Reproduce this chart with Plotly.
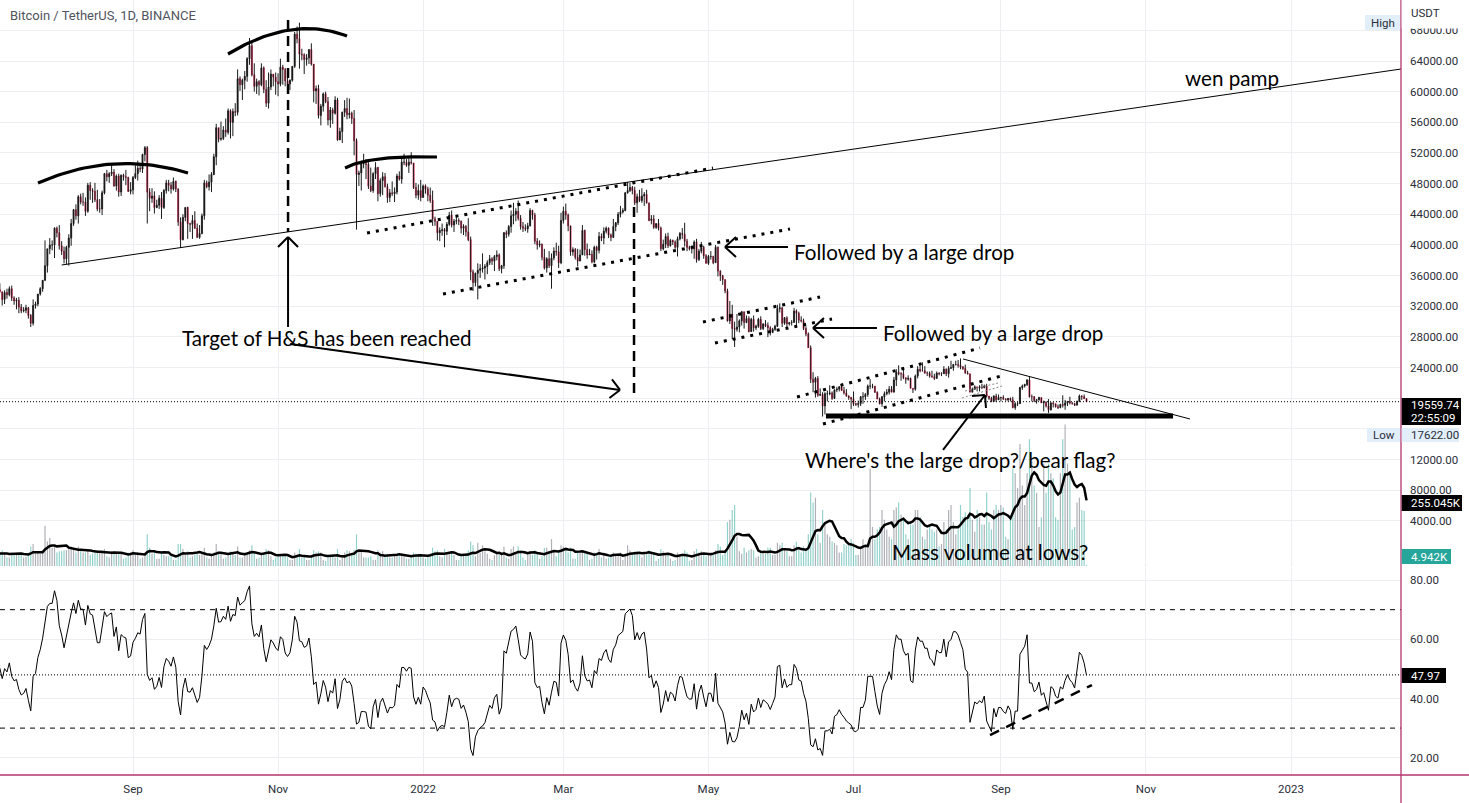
import numpy as np
import pandas as pd
import plotly.graph_objects as go

# ---------------- data (thousand USDT / thousand BTC), daily from START_DATE ----------------
START_DATE = "2021-06-10"
FIRST_OPEN_K = 37.3

CLOSE_K = [
    # 2021-06 (10..30)
    36.7, 37.3, 35.5, 39.0, 40.5, 40.2, 38.3, 38.1, 35.8, 35.5, 35.6, 31.7, 32.5, 33.7, 34.7, 31.6, 32.3, 34.7, 34.5, 35.9, 35.0,
    # 2021-07
    33.5, 33.8, 34.7, 35.3, 33.7, 34.2, 33.9, 32.9, 33.8, 33.5, 34.3, 33.1, 32.7, 32.8, 31.9, 31.4, 31.5, 31.8, 30.8, 29.8, 32.1, 32.3, 33.6, 34.3, 35.4, 37.3, 39.5, 40.0, 40.0, 42.2, 41.6,
    # 2021-08
    39.9, 39.2, 38.2, 39.7, 40.9, 42.8, 44.6, 43.8, 46.3, 45.6, 45.6, 44.4, 47.8, 47.1, 47.0, 45.9, 44.7, 44.7, 46.8, 49.3, 48.9, 49.3, 49.5, 47.7, 49.0, 46.9, 49.1, 48.9, 48.8, 47.0, 47.2,
    # 2021-09
    48.8, 49.3, 50.0, 49.9, 51.8, 52.7, 46.9, 46.1, 46.4, 44.9, 45.2, 46.1, 44.9, 47.1, 48.1, 47.8, 47.3, 48.3, 47.3, 43.0, 40.7, 43.6, 44.9, 42.8, 42.7, 43.2, 42.2, 41.0, 41.5, 43.8,
    # 2021-10
    48.1, 47.6, 48.2, 49.2, 51.5, 55.3, 53.8, 53.9, 55.0, 54.7, 57.5, 56.0, 57.4, 57.3, 61.7, 60.9, 61.5, 62.0, 64.3, 66.0, 62.2, 60.7, 61.3, 60.9, 63.1, 60.3, 58.5, 60.6, 62.3, 61.9, 61.3,
    # 2021-11
    61.0, 63.2, 62.9, 61.4, 61.0, 61.5, 63.3, 67.5, 66.9, 64.9, 64.8, 64.2, 64.4, 65.5, 63.6, 60.1, 60.4, 56.9, 58.1, 59.7, 58.7, 56.3, 57.6, 57.2, 58.9, 53.7, 54.8, 57.3, 57.8, 57.0,
    # 2021-12
    57.2, 56.5, 53.6, 49.2, 49.4, 50.6, 50.6, 50.5, 47.7, 47.1, 49.3, 50.1, 46.7, 48.4, 48.9, 47.6, 46.2, 46.8, 46.7, 46.9, 49.0, 48.6, 50.8, 50.8, 50.4, 50.8, 50.7, 47.5, 46.5, 47.1, 46.2,
    # 2022-01
    47.7, 47.3, 46.5, 45.8, 43.4, 43.1, 41.6, 41.9, 42.0, 41.8, 42.7, 43.9, 42.6, 43.1, 43.2, 43.1, 42.2, 42.4, 41.7, 40.7, 36.5, 35.1, 36.3, 36.7, 36.9, 37.0, 37.2, 37.7, 38.2, 37.9, 38.5,
    # 2022-02
    38.7, 36.9, 37.3, 41.6, 41.4, 42.4, 43.8, 44.0, 44.4, 43.5, 42.4, 42.2, 42.1, 42.5, 44.5, 43.9, 40.5, 40.0, 40.1, 38.4, 37.0, 38.2, 37.3, 38.3, 39.2, 39.1, 37.7, 43.2,
    # 2022-03
    44.4, 43.9, 42.5, 39.1, 39.4, 38.4, 37.9, 38.7, 41.9, 39.4, 38.7, 38.8, 37.8, 39.7, 39.3, 41.1, 40.9, 41.8, 42.2, 41.3, 41.0, 42.4, 42.9, 44.0, 44.3, 44.5, 46.8, 47.1, 47.5, 47.1, 45.5,
    # 2022-04
    46.3, 45.8, 46.4, 46.6, 45.5, 43.2, 43.4, 42.3, 42.8, 42.2, 39.5, 40.1, 41.1, 39.9, 40.6, 40.4, 39.7, 40.8, 41.5, 41.4, 40.5, 39.7, 39.5, 39.5, 40.4, 38.1, 39.2, 39.7, 38.6, 37.6,
    # 2022-05
    38.5, 38.5, 37.7, 39.7, 36.6, 36.0, 35.5, 34.0, 30.1, 31.0, 29.1, 29.0, 29.3, 30.1, 31.3, 29.9, 30.4, 28.7, 30.3, 29.2, 29.4, 30.3, 29.1, 29.7, 29.5, 29.2, 28.6, 29.0, 29.4, 31.7, 31.8,
    # 2022-06
    29.8, 30.5, 29.7, 29.9, 29.9, 31.4, 31.1, 30.2, 30.1, 29.1, 28.4, 26.6, 22.5, 22.1, 22.6, 20.4, 20.5, 19.0, 20.6, 20.6, 20.7, 20.0, 21.1, 21.2, 21.5, 21.0, 20.7, 20.3, 20.1, 19.9,
    # 2022-07
    19.3, 19.2, 19.3, 20.2, 20.2, 20.5, 21.6, 21.6, 21.6, 20.8, 19.9, 19.3, 20.2, 20.6, 20.8, 21.2, 20.8, 22.4, 23.4, 23.2, 23.2, 22.7, 22.5, 22.6, 21.3, 21.2, 22.9, 23.8, 23.6, 23.6, 23.3,
    # 2022-08
    23.3, 22.9, 22.8, 22.6, 23.3, 23.2, 23.2, 23.8, 23.2, 23.9, 24.0, 24.4, 24.4, 24.3, 24.1, 23.9, 23.3, 23.2, 20.8, 21.2, 21.5, 21.4, 21.5, 21.4, 21.6, 20.3, 20.0, 19.6, 20.3, 19.8, 20.1,
    # 2022-09
    20.1, 19.9, 19.8, 20.0, 19.8, 18.8, 19.3, 19.3, 21.4, 21.6, 21.8, 22.4, 20.2, 20.2, 19.7, 19.8, 20.1, 19.4, 19.5, 19.0, 18.5, 19.4, 19.3, 18.9, 18.8, 19.2, 19.1, 19.4, 19.6, 19.4,
    # 2022-10 (1..7)
    19.3, 19.1, 19.6, 20.3, 20.2, 19.96, 19.55974,
]

HIGH_K = [
    38.4, 37.7, 37.4, 39.3, 41.0, 41.3, 40.5, 39.6, 38.2, 36.4, 36.1, 35.7, 33.3, 34.9, 35.3, 35.0, 32.7, 34.7, 35.3, 36.7, 36.0,
    35.0, 33.9, 34.9, 35.9, 35.3, 35.1, 35.0, 33.9, 34.1, 34.3, 34.6, 34.7, 33.3, 33.1, 33.2, 32.3, 31.9, 32.2, 31.9, 31.0, 32.9, 32.6, 33.6, 34.5, 35.4, 40.6, 39.5, 40.9, 40.6, 42.3, 42.4,
    42.6, 40.5, 39.8, 39.9, 41.4, 43.4, 44.7, 45.3, 46.5, 46.7, 46.8, 46.2, 48.1, 48.2, 47.4, 48.1, 47.2, 46.0, 47.1, 49.4, 49.8, 49.5, 50.5, 49.9, 49.2, 49.3, 49.2, 49.3, 49.8, 48.9, 48.2,
    49.0, 50.4, 51.0, 50.6, 51.9, 52.9, 52.9, 47.4, 47.4, 47.0, 45.9, 46.5, 46.9, 47.3, 48.5, 48.5, 48.2, 48.8, 48.4, 47.4, 43.6, 44.0, 44.9, 45.0, 42.9, 43.9, 44.4, 42.8, 42.6, 44.1,
    48.5, 48.4, 49.2, 49.5, 51.9, 55.8, 55.3, 56.1, 55.5, 56.5, 57.8, 57.7, 57.8, 58.5, 62.9, 62.0, 61.7, 62.7, 64.5, 67.0, 66.6, 63.7, 61.7, 61.5, 63.7, 63.3, 61.5, 62.5, 62.9, 62.3, 62.5,
    62.4, 64.3, 63.5, 63.1, 62.6, 61.6, 63.3, 67.8, 68.5, 69.0, 65.6, 65.0, 64.9, 65.5, 66.3, 63.6, 60.8, 60.9, 58.4, 59.9, 60.0, 59.3, 58.0, 57.9, 59.4, 59.2, 55.3, 57.4, 58.9, 59.2,
    59.1, 57.4, 57.6, 53.9, 49.7, 51.0, 51.9, 51.2, 50.8, 50.1, 49.5, 50.8, 50.2, 48.7, 49.5, 49.4, 48.0, 47.3, 48.3, 47.5, 49.3, 49.6, 51.4, 51.9, 51.2, 51.3, 52.1, 50.7, 48.1, 47.9, 48.5,
    47.9, 47.9, 47.6, 47.5, 47.1, 43.7, 43.1, 42.3, 42.8, 42.2, 43.0, 44.3, 44.5, 43.4, 43.8, 43.5, 43.2, 42.7, 42.6, 43.5, 41.1, 36.8, 36.4, 37.6, 37.5, 38.9, 37.5, 38.0, 38.7, 38.4, 38.7,
    39.3, 38.9, 37.4, 41.7, 41.9, 42.6, 44.5, 45.5, 44.8, 45.8, 43.9, 43.0, 42.7, 42.9, 44.8, 44.6, 44.2, 40.9, 40.6, 40.2, 39.5, 38.4, 39.2, 38.9, 39.7, 40.3, 39.9, 44.2,
    45.0, 45.4, 44.1, 42.5, 39.7, 39.6, 39.5, 39.4, 42.6, 42.0, 40.2, 39.5, 39.3, 39.9, 39.9, 41.7, 41.5, 42.3, 42.4, 42.3, 41.5, 43.4, 43.0, 44.3, 45.1, 44.8, 46.9, 48.2, 48.1, 47.7, 47.6,
    46.7, 47.2, 47.4, 46.9, 47.2, 45.5, 43.9, 43.9, 42.8, 43.4, 42.4, 40.7, 41.5, 41.6, 40.8, 40.7, 40.6, 41.1, 41.7, 42.2, 42.9, 40.8, 39.9, 39.9, 40.6, 40.8, 39.5, 40.4, 39.9, 38.8,
    38.7, 39.2, 38.6, 40.0, 39.8, 36.7, 36.1, 35.5, 34.3, 32.7, 32.2, 30.0, 31.0, 30.3, 31.4, 31.3, 30.8, 30.7, 30.5, 30.8, 29.6, 30.5, 30.7, 29.8, 30.2, 29.9, 29.4, 29.2, 29.6, 32.2, 32.4,
    31.9, 30.6, 30.7, 29.9, 30.2, 31.8, 31.6, 31.3, 30.7, 30.4, 29.4, 28.6, 26.9, 23.4, 22.8, 22.9, 21.3, 20.8, 20.8, 21.0, 21.7, 20.9, 21.2, 21.5, 21.6, 21.9, 21.5, 21.2, 20.4, 20.2,
    20.9, 19.4, 19.7, 20.3, 20.8, 20.7, 21.8, 22.5, 21.9, 21.6, 20.9, 20.1, 20.3, 20.9, 21.2, 21.6, 21.6, 22.8, 23.8, 24.3, 23.4, 23.8, 22.7, 23.0, 22.7, 21.3, 23.1, 24.2, 24.4, 24.7, 24.2,
    23.5, 23.5, 23.6, 23.2, 23.5, 23.4, 23.4, 24.2, 23.9, 24.2, 24.9, 24.5, 24.9, 25.0, 25.2, 24.2, 24.4, 23.6, 23.2, 21.4, 21.7, 21.5, 21.7, 21.9, 21.8, 21.9, 20.3, 20.2, 20.4, 20.6, 20.5,
    20.2, 20.4, 20.0, 20.0, 20.1, 20.2, 19.5, 19.5, 21.5, 21.8, 21.9, 22.5, 22.8, 20.5, 20.3, 19.9, 20.2, 20.1, 19.7, 19.6, 19.9, 19.5, 19.5, 19.3, 19.2, 19.3, 20.4, 19.8, 19.6, 20.2,
    19.5, 19.4, 19.7, 20.5, 20.4, 20.5, 19.99,
]

LOW_K = [
    35.8, 35.9, 34.6, 34.8, 38.7, 39.5, 38.1, 37.4, 35.1, 34.8, 33.4, 31.3, 28.8, 31.7, 32.3, 31.0, 30.2, 32.0, 33.9, 34.2, 34.0,
    32.7, 32.7, 33.3, 34.5, 33.2, 33.5, 33.8, 32.1, 32.3, 33.0, 33.3, 32.7, 32.2, 31.6, 31.1, 31.1, 31.2, 31.1, 30.4, 29.3, 29.5, 31.7, 32.0, 33.4, 33.9, 35.3, 36.4, 38.8, 39.3, 38.3, 41.0,
    39.4, 38.7, 37.6, 37.5, 37.3, 39.9, 42.5, 43.3, 42.8, 45.3, 45.1, 43.8, 44.2, 45.9, 45.5, 45.6, 44.4, 44.2, 43.9, 46.6, 48.3, 48.1, 49.0, 47.6, 47.1, 46.3, 46.4, 48.4, 47.8, 46.9, 46.6,
    46.6, 48.6, 48.4, 49.5, 49.4, 50.9, 42.8, 44.4, 45.5, 44.1, 44.8, 44.7, 43.4, 44.7, 46.7, 47.0, 46.7, 47.1, 46.9, 42.5, 39.6, 40.6, 43.1, 40.8, 41.7, 40.8, 42.1, 40.9, 40.8, 41.4,
    43.3, 47.4, 47.1, 46.9, 49.1, 50.4, 53.4, 53.6, 53.7, 54.1, 54.4, 53.9, 54.2, 56.8, 56.9, 60.1, 58.9, 60.3, 61.3, 63.5, 62.0, 60.0, 59.7, 59.5, 60.7, 59.8, 58.0, 57.8, 60.2, 60.7, 59.6,
    59.4, 60.7, 60.9, 60.7, 60.7, 60.2, 61.3, 63.1, 66.3, 63.0, 64.1, 62.3, 63.4, 63.6, 63.4, 58.6, 58.4, 56.5, 55.6, 57.4, 58.5, 55.6, 55.3, 55.8, 57.0, 53.6, 53.7, 53.3, 56.7, 56.4,
    56.5, 55.8, 51.7, 42.0, 47.7, 47.1, 50.0, 48.6, 47.3, 46.9, 46.8, 48.6, 45.7, 46.3, 46.5, 47.5, 45.5, 45.6, 46.4, 45.6, 46.6, 48.4, 48.0, 50.4, 50.2, 49.4, 50.5, 47.3, 46.1, 45.9, 45.7,
    46.2, 46.7, 45.7, 45.5, 42.5, 42.5, 40.6, 40.5, 41.2, 39.7, 41.3, 42.5, 42.3, 41.7, 42.7, 42.6, 41.5, 41.3, 41.1, 40.5, 35.4, 34.0, 34.6, 32.9, 35.7, 36.4, 35.5, 36.2, 37.4, 37.4, 36.6,
    38.0, 36.6, 36.3, 36.9, 40.9, 41.1, 41.6, 42.7, 43.1, 43.2, 42.0, 41.7, 41.8, 41.6, 42.4, 43.3, 40.1, 39.4, 39.7, 38.0, 36.8, 36.4, 37.0, 34.3, 38.0, 38.6, 37.0, 37.5,
    42.8, 43.3, 41.8, 38.6, 38.6, 38.1, 37.2, 37.9, 38.7, 38.6, 38.2, 38.7, 37.6, 37.6, 38.1, 38.9, 40.5, 40.1, 41.5, 40.9, 40.5, 40.9, 41.8, 42.6, 43.6, 44.1, 44.4, 46.7, 46.9, 46.6, 45.2,
    44.2, 45.6, 45.5, 45.1, 45.4, 43.1, 42.7, 42.1, 42.1, 41.9, 39.2, 39.3, 39.6, 39.6, 39.8, 40.0, 39.5, 38.5, 40.6, 40.8, 39.8, 39.2, 39.3, 38.9, 38.2, 37.7, 37.9, 38.9, 38.2, 37.6,
    37.4, 38.1, 37.5, 37.7, 35.9, 35.3, 34.8, 33.7, 30.0, 29.7, 27.7, 26.7, 28.7, 28.6, 29.5, 29.1, 29.8, 28.6, 28.7, 28.7, 28.9, 29.2, 28.9, 28.9, 29.3, 28.0, 28.2, 28.5, 28.8, 29.3, 31.2,
    29.3, 29.6, 29.3, 29.5, 29.5, 29.9, 29.2, 29.8, 29.9, 28.9, 28.1, 26.6, 22.0, 20.8, 20.1, 20.2, 20.3, 17.622, 17.9, 19.6, 20.4, 19.8, 19.9, 20.8, 20.9, 21.0, 20.5, 20.2, 19.8, 18.6,
    19.0, 19.0, 18.8, 19.0, 19.3, 19.8, 20.2, 21.2, 21.3, 20.7, 19.9, 19.2, 18.9, 19.6, 20.4, 20.5, 20.8, 20.8, 21.6, 23.0, 22.3, 22.5, 21.9, 22.3, 21.3, 20.7, 21.0, 22.6, 23.4, 23.5, 23.2,
    22.9, 22.7, 22.7, 22.4, 22.6, 23.0, 22.9, 23.2, 22.9, 22.7, 23.9, 23.6, 24.3, 24.0, 23.8, 23.7, 23.2, 23.1, 20.8, 20.8, 21.1, 20.9, 20.9, 21.2, 21.3, 20.1, 19.8, 19.5, 19.6, 19.5, 19.8,
    19.6, 19.8, 19.7, 19.6, 19.6, 18.7, 18.5, 19.0, 19.3, 21.1, 21.4, 21.6, 20.1, 19.6, 19.5, 19.3, 19.7, 19.4, 18.3, 18.8, 18.1, 18.4, 18.8, 18.8, 18.6, 18.7, 18.8, 18.5, 19.0, 19.2,
    19.2, 19.0, 19.1, 19.5, 19.8, 19.9, 19.52,
]

VOLUME_K = [
    70, 60, 55, 65, 75, 60, 65, 60, 70, 50, 55, 95, 110, 70, 60, 70, 45, 50, 50, 55, 45,
    60, 50, 40, 45, 55, 55, 55, 65, 55, 35, 35, 55, 50, 55, 55, 55, 35, 38, 55, 80, 90, 55, 55, 50, 55, 165, 100, 115, 75, 80, 55,
    60, 60, 65, 65, 75, 80, 70, 55, 80, 60, 55, 55, 65, 45, 50, 55, 65, 55, 65, 70, 40, 35, 60, 60, 50, 55, 55, 30, 35, 55, 55,
    65, 55, 55, 30, 35, 55, 130, 75, 50, 55, 30, 30, 60, 45, 40, 40, 40, 25, 25, 90, 90, 70, 45, 60, 35, 40, 45, 50, 45, 55,
    75, 35, 30, 45, 55, 90, 60, 55, 30, 35, 55, 60, 55, 45, 80, 35, 35, 55, 55, 65, 85, 55, 30, 35, 45, 50, 70, 65, 40, 25, 35,
    50, 45, 45, 40, 35, 25, 25, 55, 45, 70, 35, 45, 25, 25, 40, 65, 55, 60, 55, 25, 20, 40, 40, 40, 35, 70, 25, 45, 55, 65,
    60, 50, 65, 130, 65, 65, 35, 35, 35, 40, 25, 25, 65, 55, 60, 45, 50, 35, 35, 45, 50, 40, 50, 40, 30, 30, 45, 55, 50, 50, 50,
    35, 30, 45, 50, 75, 60, 65, 40, 35, 70, 55, 55, 55, 45, 25, 25, 45, 50, 50, 65, 100, 85, 40, 95, 55, 85, 60, 50, 30, 25, 45,
    50, 45, 50, 80, 35, 30, 70, 80, 50, 80, 65, 35, 25, 55, 60, 45, 65, 55, 30, 40, 75, 75, 50, 110, 65, 40, 55, 85,
    80, 65, 55, 75, 30, 30, 60, 55, 65, 60, 55, 25, 30, 55, 50, 70, 35, 50, 30, 35, 45, 55, 45, 50, 55, 25, 45, 85, 65, 50, 60,
    60, 45, 35, 50, 50, 65, 50, 55, 20, 30, 70, 60, 50, 50, 30, 20, 25, 55, 45, 50, 65, 55, 20, 25, 60, 70, 55, 60, 50, 40,
    45, 55, 45, 65, 90, 80, 45, 65, 180, 190, 230, 250, 120, 60, 50, 75, 55, 65, 70, 65, 35, 40, 65, 55, 50, 75, 75, 45, 45, 95, 85,
    95, 65, 60, 40, 40, 85, 100, 70, 55, 80, 70, 130, 300, 260, 280, 130, 95, 230, 180, 130, 120, 100, 95, 85, 55, 55, 90, 85, 90, 110,
    95, 45, 45, 70, 110, 85, 80, 400, 160, 110, 150, 160, 230, 190, 150, 120, 110, 230, 240, 260, 210, 200, 130, 110, 170, 170, 230, 230, 200, 120, 110,
    150, 170, 150, 140, 150, 80, 90, 180, 150, 230, 250, 180, 130, 150, 250, 200, 220, 210, 320, 190, 140, 230, 200, 170, 170, 300, 180, 150, 230, 250, 230,
    250, 240, 120, 110, 200, 400, 380, 320, 500, 330, 250, 380, 520, 430, 330, 300, 160, 200, 420, 300, 420, 380, 360, 200, 190, 380, 520, 580, 420, 380,
    150, 160, 260, 280, 230, 225, 4.942,
]

TIME_TICKS = ["2021-09-01", "2021-11-01", "2022-01-01", "2022-03-01", "2022-05-01",
              "2022-07-01", "2022-09-01", "2022-11-01", "2023-01-01"]
TIME_TICK_TEXT = ["Sep", "Nov", "2022", "Mar", "May", "Jul", "Sep", "Nov", "2023"]
PRICE_TICKS = [4000, 8000, 12000, 16000, 20000, 24000, 28000, 32000, 36000, 40000,
               44000, 48000, 52000, 56000, 60000, 64000, 68000]
PRICE_TICKS_HIDDEN = [16000, 20000]
RSI_TICKS = [20, 40, 60, 80]
RSI_BANDS = [70, 30]
RSI_LAST = 47.97
LOW_VALUE = 17622.00
VOL_MA_LABEL = "255.045K"
VOL_LAST_LABEL = "4.942K"
COUNTDOWN = "22:55:09"

# ---------------- derived series ----------------
n = len(CLOSE_K)
assert len(HIGH_K) == n and len(LOW_K) == n and len(VOLUME_K) == n, (n, len(HIGH_K), len(LOW_K), len(VOLUME_K))
dates = pd.date_range(START_DATE, periods=n, freq="D")
close = np.array(CLOSE_K) * 1000
open_ = np.concatenate([[FIRST_OPEN_K * 1000], close[:-1]])
high = np.maximum(np.array(HIGH_K) * 1000, np.maximum(open_, close))
low = np.minimum(np.array(LOW_K) * 1000, np.minimum(open_, close))
body_hi = np.maximum(open_, close)
body_lo = np.minimum(open_, close)
vol = np.array(VOLUME_K, dtype=float)
is_up = close >= open_
vol_ma = pd.Series(vol).rolling(10).mean()
delta = pd.Series(close).diff().iloc[1:]
gain = delta.clip(lower=0)
loss = (-delta).clip(lower=0)
ag = gain.ewm(alpha=1 / 14, adjust=False).mean()
al = loss.ewm(alpha=1 / 14, adjust=False).mean()
rsi = 100 - 100 / (1 + ag / al)

# wick segments (x, x, gap) / (low, high, gap)
wick_x, wick_y = [], []
for d, lo_, hi_ in zip(dates, low, high):
    wick_x += [d, d, None]
    wick_y += [lo_, hi_, None]

# ---------------- style ----------------
INK = "#000000"
UP_C = "#111111"
DOWN_C = "#d4264f"
WICK_C = "#1a1a1a"
GRID = "#eceef2"
FRAME = "#b3336f"
AXIS_FONT = dict(family="Roboto, Arial", size=11.5, color="#2a2e39")
DRAW_FONT = dict(family="Lato, Roboto, sans-serif", size=20.6, color="#000000")
PLOT_W, PLOT_H = 1401, 775

def pp(x, y):
    return x / PLOT_W, (PLOT_H - y) / PLOT_H

fig = go.Figure()

fig.add_trace(go.Bar(
    x=dates, y=vol, yaxis="y2",
    marker=dict(color=np.where(is_up, "rgba(120,123,134,0.6)", "rgba(38,166,154,0.5)"), line=dict(width=0)),
    width=0.5 * 86400000, hoverinfo="skip"))
fig.add_trace(go.Scatter(x=dates, y=vol_ma, yaxis="y2", mode="lines",
                         line=dict(color=INK, width=2.5), hoverinfo="skip"))
fig.add_trace(go.Scatter(x=wick_x, y=wick_y, mode="lines", line=dict(color=WICK_C, width=1),
                         hoverinfo="skip", connectgaps=False))
fig.add_trace(go.Candlestick(
    x=dates, open=open_, high=body_hi, low=body_lo, close=close,
    increasing=dict(line=dict(color=UP_C, width=0.6), fillcolor=UP_C),
    decreasing=dict(line=dict(color=DOWN_C, width=0.6), fillcolor=DOWN_C),
    whiskerwidth=0, hoverinfo="skip"))
fig.add_trace(go.Scatter(x=dates[1:], y=rsi, xaxis="x", yaxis="y3", mode="lines",
                         line=dict(color=INK, width=1), hoverinfo="skip"))

shapes = []
annotations = []

# ---------------- drawings (data coordinates) ----------------
ARCS = [
    [("2021-07-23 01:00", 48087), ("2021-08-23 14:00", 52391), ("2021-09-24 03:00", 49391)],
    [("2021-10-10 23:00", 64912), ("2021-11-06 21:00", 70000), ("2021-11-30 00:00", 67260)],
    [("2021-11-29 04:00", 50043), ("2021-12-09 16:00", 51739), ("2022-01-06 20:00", 51478)],
]
for p0, p1, p2 in ARCS:
    t = np.linspace(0, 1, 40)
    xs = [pd.Timestamp(p[0]).value for p in (p0, p1, p2)]
    ys = [p[1] for p in (p0, p1, p2)]
    bx = (1 - t) ** 2 * xs[0] + 2 * (1 - t) * t * xs[1] + t ** 2 * xs[2]
    by = (1 - t) ** 2 * ys[0] + 2 * (1 - t) * t * ys[1] + t ** 2 * ys[2]
    fig.add_trace(go.Scatter(x=pd.to_datetime(bx), y=by, mode="lines",
                             line=dict(color=INK, width=3.2), hoverinfo="skip"))

LINES = [
    # (x0, y0, x1, y1, width, dash, color, yref)
    ("2021-08-02 00:00", 37391, "2023-02-16 06:00", 62956, 1, "solid", INK, "y"),
    ("2022-08-16 02:00", 25131, "2022-11-19 12:00", 17305, 1, "solid", INK, "y"),
    ("2022-06-19 10:00", 17700, "2022-11-12 09:00", 17700, 5, "solid", INK, "y"),
    ("2021-11-05 05:00", 69347, "2021-11-05 05:00", 41696, 2.5, "10px,6px", INK, "y"),
    ("2022-03-30 17:00", 44956, "2022-03-30 17:00", 20696, 2.5, "10px,6px", INK, "y"),
    ("2021-12-08 10:00", 41565, "2022-05-02 22:00", 50043, 3, "3px,6px", INK, "y"),
    ("2022-01-09 09:00", 33609, "2022-06-04 07:00", 42087, 3, "3px,6px", INK, "y"),
    ("2022-04-28 17:00", 29957, "2022-06-16 22:00", 33218, 3, "3px,6px", INK, "y"),
    ("2022-05-03 18:00", 27218, "2022-06-21 23:00", 30348, 3, "3px,6px", INK, "y"),
    ("2022-06-07 06:00", 20175, "2022-08-23 05:00", 26566, 3, "3px,6px", INK, "y"),
    ("2022-06-18 04:00", 16653, "2022-09-02 17:00", 23044, 3, "3px,6px", INK, "y"),
    ("2022-08-15 15:00", 20044, "2022-09-01 11:00", 21609, 1, "2px,2px", "#888888", "y"),
    ("2022-08-16 22:00", 20957, "2022-08-30 19:00", 22000, 1, "2px,2px", "#888888", "y"),
    ("2022-08-27 10:00", 27.67, "2022-10-09 07:00", 44.55, 2.5, "10px,8px", INK, "y3"),
]
for x0, y0, x1, y1, w, dash, col, yr in LINES:
    shapes.append(dict(type="line", xref="x", yref=yr, x0=x0, y0=y0, x1=x1, y1=y1,
                       line=dict(color=col, width=w, dash=dash)))

ARROWS = [
    # tail, tip, wing offsets (pixels, up positive)
    (("2021-11-05 05:00", 29305), ("2021-11-05 05:00", 41043), [(-10, -10), (10, -10)]),
    (("2021-11-06 01:00", 27087), ("2022-03-24 19:00", 21088), [(-8, 10.5), (-10.5, -8)]),
    (("2022-06-03 11:00", 39739), ("2022-05-07 23:00", 39739), [(11, 10), (11, -10)]),
    (("2022-07-10 21:00", 29174), ("2022-06-13 23:00", 29174), [(11, 10), (11, -10)]),
    (("2022-08-07 16:00", 13262), ("2022-08-25 07:00", 20435), [(-13, -1), (1, -13)]),
]
for tail, tip, wings in ARROWS:
    shapes.append(dict(type="line", xref="x", yref="y", x0=tail[0], y0=tail[1], x1=tip[0], y1=tip[1],
                       line=dict(color=INK, width=2)))
    for wx, wy in wings:
        shapes.append(dict(type="line", xref="x", yref="y", xsizemode="pixel", ysizemode="pixel",
                           xanchor=tip[0], yanchor=tip[1], x0=0, y0=0, x1=wx, y1=wy,
                           line=dict(color=INK, width=2)))

TEXTS = [
    ("Target of H&S has been reached", "2021-11-21 14:00", 27870, "center"),
    ("Followed by a large drop", "2022-06-05 06:00", 39087, "left"),
    ("Followed by a large drop", "2022-07-12 10:00", 28522, "left"),
    ("Where's the large drop?/bear flag?", "2022-08-14 19:00", 11957, "center"),
    ("wen pamp", "2022-12-07 04:00", 61782, "center"),
    ("Mass volume at lows?", "2022-08-27 10:00", -40, "center"),
]
for txt, xd, yv, anc in TEXTS:
    annotations.append(dict(text=txt, x=xd, y=yv, xref="x", yref="y", showarrow=False,
                            xanchor=anc, yanchor="middle", font=DRAW_FONT))

# last value lines
shapes.append(dict(type="line", xref="paper", x0=0, x1=1, yref="y", y0=close[-1], y1=close[-1],
                   line=dict(color=INK, width=1, dash="1px,2px")))
shapes.append(dict(type="line", xref="paper", x0=0, x1=1, yref="y3", y0=RSI_LAST, y1=RSI_LAST,
                   line=dict(color=INK, width=1, dash="1px,2px")))
for b in RSI_BANDS:
    shapes.append(dict(type="line", xref="paper", x0=0, x1=1, yref="y3", y0=b, y1=b,
                       line=dict(color=INK, width=1, dash="5px,5px")))

# pane frame
shapes.append(dict(type="line", xref="paper", yref="paper", x0=1, x1=1, y0=-28 / PLOT_H, y1=1,
                   line=dict(color=FRAME, width=1.3)))
shapes.append(dict(type="line", xref="paper", yref="paper", x0=0, x1=1469 / PLOT_W, y0=0, y1=0,
                   line=dict(color=FRAME, width=1.3)))

# ---------------- price-scale labels ----------------
def box(x0, y0, x1, y1, fill):
    a0 = pp(x0, y1); a1 = pp(x1, y0)
    shapes.append(dict(type="rect", xref="paper", yref="paper", x0=a0[0], y0=a0[1], x1=a1[0], y1=a1[1],
                       fillcolor=fill, line=dict(width=0), layer="above"))

def label(text, x, y, color, anchor="left", size=11.5):
    px, py = pp(x, y)
    annotations.append(dict(text=text, x=px, y=py, xref="paper", yref="paper", showarrow=False,
                            xanchor=anchor, yanchor="middle",
                            font=dict(family="Roboto, Arial", size=size, color=color)))

box(1401.7, 0, 1469, 28.5, "white")
label("USDT", 1409, 13, "#2a2e39")
box(1365, 15, 1400, 30, "#e3eefb")
label("High", 1382.5, 22.5, "#2a2e39", "center")
box(1401.7, 398, 1461, 425, "#000000")
label(f"{close[-1]:.2f}", 1409, 405, "white")
label(COUNTDOWN, 1409, 418, "white")
box(1367, 428, 1400, 442, "#e3eefb")
label("Low", 1383.5, 435, "#2a2e39", "center")
box(1401.7, 428, 1459, 442, "#e3eefb")
label(f"{LOW_VALUE:.2f}", 1409, 435, "#2a2e39")
box(1401.7, 495, 1462, 511, "#000000")
label(VOL_MA_LABEL, 1409, 503, "white")
box(1401.7, 549, 1451, 564, "#26a69a")
label(VOL_LAST_LABEL, 1409, 556.5, "white")
box(1401.7, 668, 1446, 683, "#000000")
label(f"{RSI_LAST:.2f}", 1409, 675.5, "white")

tx, ty = pp(8, 16)
annotations.append(dict(text="Bitcoin / TetherUS, 1D, BINANCE", x=tx, y=ty, xref="paper", yref="paper",
                        showarrow=False, xanchor="left", yanchor="middle",
                        font=dict(family="Roboto, Arial", size=13, color="#50535e")))

price_ticktext = ["" if v in PRICE_TICKS_HIDDEN else f"{v:.2f}" for v in PRICE_TICKS]

fig.update_layout(
    width=1469, height=803, margin=dict(l=0, r=68, t=0, b=28),
    paper_bgcolor="white", plot_bgcolor="white", showlegend=False,
    shapes=shapes, annotations=annotations,
    xaxis=dict(type="date", range=["2021-07-07 01:40", "2023-02-16 06:00"], anchor="y3",
               tickvals=TIME_TICKS, ticktext=TIME_TICK_TEXT, showgrid=True, gridcolor=GRID,
               zeroline=False, showline=False, ticks="", tickfont=AXIS_FONT, ticklabelstandoff=5,
               rangeslider=dict(visible=False)),
    yaxis=dict(domain=[0.2684, 1], range=[-2000, 71956], side="right", anchor="x",
               tickvals=PRICE_TICKS, ticktext=price_ticktext, showgrid=True, gridcolor=GRID,
               zeroline=False, showline=False, ticks="", tickfont=AXIS_FONT, ticklabelstandoff=8),
    yaxis2=dict(overlaying="y", range=[-4.1, 2320.6], visible=False),
    yaxis3=dict(domain=[0, 0.267], range=[14.16, 84.05], side="right", anchor="x",
                tickvals=RSI_TICKS, ticktext=[f"{v:.2f}" for v in RSI_TICKS], showgrid=True,
                gridcolor=GRID, zeroline=False, showline=False, ticks="", tickfont=AXIS_FONT,
                ticklabelstandoff=8),
)

fig.write_html("out.html")
